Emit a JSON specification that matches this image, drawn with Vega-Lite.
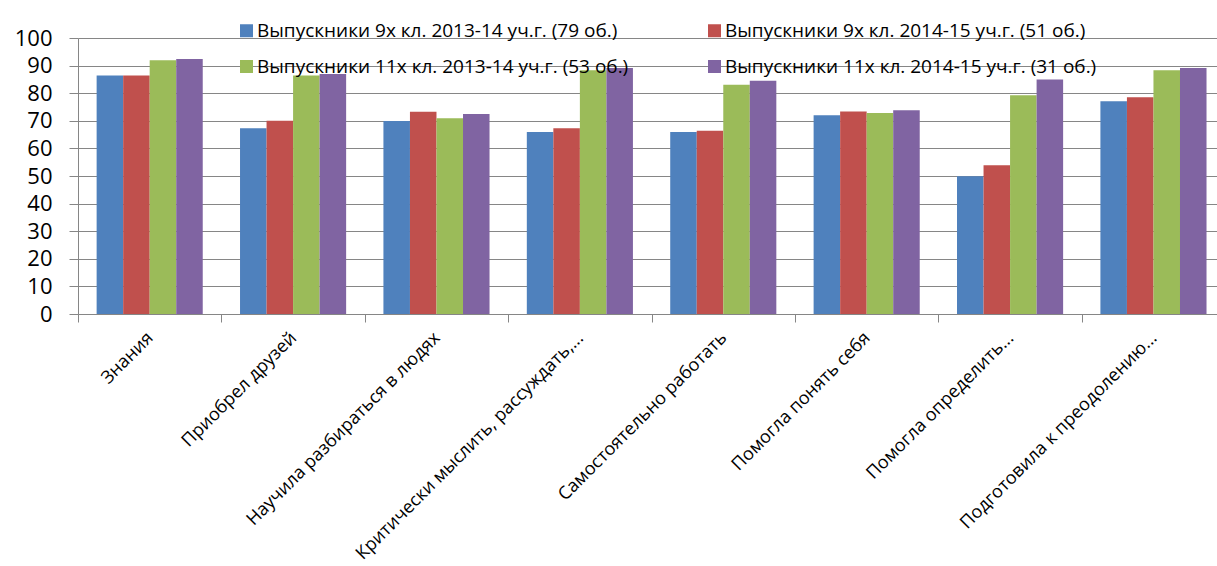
{
  "$schema": "https://vega.github.io/schema/vega-lite/v6.json",
  "width": 1139,
  "height": 276,
  "autosize": {"type": "none"},
  "padding": {"left": 78, "top": 38, "right": 0, "bottom": 252},
  "background": "white",
  "data": {
    "values": [
      {"category": "Знания", "series": "Выпускники 9х кл. 2013-14 уч.г. (79 об.)", "value": 86.4},
      {"category": "Знания", "series": "Выпускники 9х кл. 2014-15 уч.г. (51 об.)", "value": 86.4},
      {"category": "Знания", "series": "Выпускники 11х кл. 2013-14 уч.г. (53 об.)", "value": 91.9},
      {"category": "Знания", "series": "Выпускники 11х кл. 2014-15 уч.г. (31 об.)", "value": 92.4},
      {"category": "Приобрел друзей", "series": "Выпускники 9х кл. 2013-14 уч.г. (79 об.)", "value": 67.3},
      {"category": "Приобрел друзей", "series": "Выпускники 9х кл. 2014-15 уч.г. (51 об.)", "value": 70.0},
      {"category": "Приобрел друзей", "series": "Выпускники 11х кл. 2013-14 уч.г. (53 об.)", "value": 86.4},
      {"category": "Приобрел друзей", "series": "Выпускники 11х кл. 2014-15 уч.г. (31 об.)", "value": 87.0},
      {"category": "Научила разбираться в людях", "series": "Выпускники 9х кл. 2013-14 уч.г. (79 об.)", "value": 69.9},
      {"category": "Научила разбираться в людях", "series": "Выпускники 9х кл. 2014-15 уч.г. (51 об.)", "value": 73.3},
      {"category": "Научила разбираться в людях", "series": "Выпускники 11х кл. 2013-14 уч.г. (53 об.)", "value": 70.9},
      {"category": "Научила разбираться в людях", "series": "Выпускники 11х кл. 2014-15 уч.г. (31 об.)", "value": 72.5},
      {"category": "Критически мыслить, рассуждать,...", "series": "Выпускники 9х кл. 2013-14 уч.г. (79 об.)", "value": 65.9},
      {"category": "Критически мыслить, рассуждать,...", "series": "Выпускники 9х кл. 2014-15 уч.г. (51 об.)", "value": 67.3},
      {"category": "Критически мыслить, рассуждать,...", "series": "Выпускники 11х кл. 2013-14 уч.г. (53 об.)", "value": 88.3},
      {"category": "Критически мыслить, рассуждать,...", "series": "Выпускники 11х кл. 2014-15 уч.г. (31 об.)", "value": 89.1},
      {"category": "Самостоятельно работать", "series": "Выпускники 9х кл. 2013-14 уч.г. (79 об.)", "value": 65.9},
      {"category": "Самостоятельно работать", "series": "Выпускники 9х кл. 2014-15 уч.г. (51 об.)", "value": 66.4},
      {"category": "Самостоятельно работать", "series": "Выпускники 11х кл. 2013-14 уч.г. (53 об.)", "value": 83.1},
      {"category": "Самостоятельно работать", "series": "Выпускники 11х кл. 2014-15 уч.г. (31 об.)", "value": 84.5},
      {"category": "Помогла понять себя", "series": "Выпускники 9х кл. 2013-14 уч.г. (79 об.)", "value": 72.0},
      {"category": "Помогла понять себя", "series": "Выпускники 9х кл. 2014-15 уч.г. (51 об.)", "value": 73.4},
      {"category": "Помогла понять себя", "series": "Выпускники 11х кл. 2013-14 уч.г. (53 об.)", "value": 72.8},
      {"category": "Помогла понять себя", "series": "Выпускники 11х кл. 2014-15 уч.г. (31 об.)", "value": 73.8},
      {"category": "Помогла определить...", "series": "Выпускники 9х кл. 2013-14 уч.г. (79 об.)", "value": 49.9},
      {"category": "Помогла определить...", "series": "Выпускники 9х кл. 2014-15 уч.г. (51 об.)", "value": 53.9},
      {"category": "Помогла определить...", "series": "Выпускники 11х кл. 2013-14 уч.г. (53 об.)", "value": 79.3},
      {"category": "Помогла определить...", "series": "Выпускники 11х кл. 2014-15 уч.г. (31 об.)", "value": 85.0},
      {"category": "Подготовила к преодолению...", "series": "Выпускники 9х кл. 2013-14 уч.г. (79 об.)", "value": 77.1},
      {"category": "Подготовила к преодолению...", "series": "Выпускники 9х кл. 2014-15 уч.г. (51 об.)", "value": 78.5},
      {"category": "Подготовила к преодолению...", "series": "Выпускники 11х кл. 2013-14 уч.г. (53 об.)", "value": 88.3},
      {"category": "Подготовила к преодолению...", "series": "Выпускники 11х кл. 2014-15 уч.г. (31 об.)", "value": 89.1}
    ]
  },
  "mark": {"type": "bar"},
  "encoding": {
    "x": {
      "field": "category",
      "type": "nominal",
      "sort": null,
      "title": null,
      "scale": {"paddingInner": 0.26, "paddingOuter": 0.1015, "align": 0.64},
      "axis": {
        "labelAngle": -45,
        "labelAlign": "right",
        "labelBaseline": "middle",
        "labelFontSize": 18,
        "labelColor": "black",
        "labelPadding": 13,
        "bandPosition": 0,
        "tickOffset": -18.6,
        "labelOffset": 19,
        "labelLimit": 500,
        "tickSize": 8,
        "tickColor": "#868686",
        "domainColor": "#868686",
        "grid": false
      }
    },
    "xOffset": {
      "field": "series",
      "type": "nominal",
      "sort": null,
      "scale": {"paddingInner": 0, "paddingOuter": 0}
    },
    "y": {
      "field": "value",
      "type": "quantitative",
      "title": null,
      "scale": {"domain": [0, 100], "nice": false},
      "axis": {
        "values": [0, 10, 20, 30, 40, 50, 60, 70, 80, 90, 100],
        "labelFontSize": 22,
        "labelColor": "black",
        "labelPadding": 17,
        "tickSize": 9,
        "tickColor": "#868686",
        "domainColor": "#868686",
        "gridColor": "#868686",
        "gridWidth": 1
      }
    },
    "color": {
      "field": "series",
      "type": "nominal",
      "sort": null,
      "scale": {
        "domain": [
          "Выпускники 9х кл. 2013-14 уч.г. (79 об.)",
          "Выпускники 9х кл. 2014-15 уч.г. (51 об.)",
          "Выпускники 11х кл. 2013-14 уч.г. (53 об.)",
          "Выпускники 11х кл. 2014-15 уч.г. (31 об.)"
        ],
        "range": ["#4F81BD", "#C0504D", "#9BBB59", "#8064A2"]
      },
      "legend": {
        "title": null,
        "orient": "none",
        "direction": "horizontal",
        "legendX": 159,
        "legendY": -17,
        "columns": 2,
        "symbolType": "square",
        "symbolSize": 169,
        "symbolStrokeWidth": 0,
        "labelFontSize": 19,
        "labelColor": "black",
        "labelOffset": 1,
        "labelLimit": 500,
        "rowPadding": 16,
        "columnPadding": 76
      }
    }
  },
  "config": {
    "font": "Open Sans",
    "view": {"stroke": null}
  }
}
